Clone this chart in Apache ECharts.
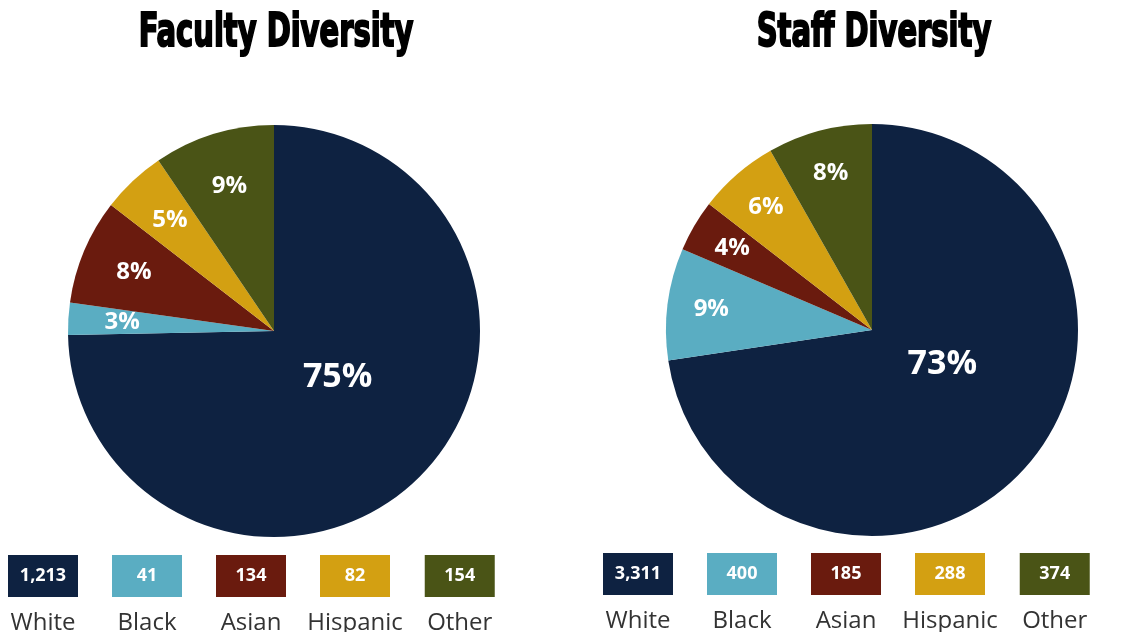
<!DOCTYPE html>
<html>
<head>
<meta charset="utf-8">
<title>Faculty and Staff Diversity</title>
<script src="https://cdn.jsdelivr.net/npm/echarts@6/dist/echarts.min.js"></script>
<style>
  html, body { margin: 0; padding: 0; background: #ffffff; }
  #chart { width: 1140px; height: 632px; }
</style>
</head>
<body>
<div id="chart"></div>
<script>
// Headcount by group
const categories = ['White', 'Black', 'Asian', 'Hispanic', 'Other'];
const facultyCounts = [1213, 41, 134, 82, 154];
const staffCounts = [3311, 400, 185, 288, 374];
const groupColors = ['#0e2241', '#5aadc2', '#6a1b0e', '#d3a012', '#4a5416'];
const chartTitles = ['Faculty Diversity', 'Staff Diversity'];

const LABEL_FONT = '"Open Sans", "DejaVu Sans", sans-serif';
const TITLE_FONT = '"DejaVu Sans Condensed", "Liberation Sans", sans-serif';

// Layout per panel: pie centre, label ring, legend origin, nudge for the big label
const panels = [
  { counts: facultyCounts, center: [274, 331], ringInner: 92, legendLeft: -9, legendTop: 555, bigNudge: [-12, -28], titleX: 276 },
  { counts: staffCounts, center: [872, 330], ringInner: 112, legendLeft: 586, legendTop: 553, bigNudge: [-10, -35], titleX: 874 }
];
const RADIUS = 206;

function fmtCount(v) {
  return v.toLocaleString('en-US');
}

const series = [];
const legends = [];
const graphics = [];

panels.forEach(function (p, pi) {
  // Filled slices; only the dominant group's percentage sits on this layer
  series.push({
    type: 'pie',
    center: p.center,
    radius: RADIUS,
    startAngle: 90,
    clockwise: true,
    percentPrecision: 0,
    silent: true,
    emphasis: { disabled: true },
    labelLine: { show: false },
    data: categories.map(function (name, i) {
      return {
        name: name,
        value: p.counts[i],
        itemStyle: { color: groupColors[i] },
        label: {
          show: i === 0,
          position: 'inside',
          formatter: '{d}%',
          color: '#ffffff',
          fontFamily: LABEL_FONT,
          fontWeight: 700,
          fontSize: 34
        }
      };
    }),
    labelLayout: function (params) {
      if (params.dataIndex === 0) {
        return { dx: p.bigNudge[0], dy: p.bigNudge[1] };
      }
    }
  });

  // Transparent ring that carries the smaller percentage labels further out
  series.push({
    type: 'pie',
    center: p.center,
    radius: [p.ringInner, RADIUS],
    startAngle: 90,
    clockwise: true,
    percentPrecision: 0,
    silent: true,
    emphasis: { disabled: true },
    labelLine: { show: false },
    itemStyle: { color: 'rgba(0,0,0,0)' },
    data: categories.map(function (name, i) {
      return {
        name: name,
        value: p.counts[i],
        label: {
          show: i !== 0,
          position: 'inside',
          formatter: '{d}%',
          color: '#ffffff',
          fontFamily: LABEL_FONT,
          fontWeight: 700,
          fontSize: 24
        }
      };
    })
  });

  // Count boxes with group names underneath; spacers keep every item the same width
  const rich = {
    sp: { width: 12, height: 42, lineHeight: 42 },
    name: { width: 94, align: 'center', fontSize: 24, lineHeight: 52, color: '#333333', fontFamily: LABEL_FONT }
  };
  categories.forEach(function (name, i) {
    rich['b' + i] = {
      width: 70,
      height: 42,
      lineHeight: 42,
      align: 'center',
      backgroundColor: groupColors[i],
      color: '#ffffff',
      fontFamily: LABEL_FONT,
      fontWeight: 700,
      fontSize: 18
    };
  });
  legends.push({
    left: p.legendLeft,
    top: p.legendTop,
    orient: 'horizontal',
    itemWidth: 0,
    itemHeight: 0,
    itemGap: 5,
    padding: 0,
    selectedMode: false,
    data: categories,
    formatter: function (name) {
      const i = categories.indexOf(name);
      return '{sp| }{b' + i + '|' + fmtCount(p.counts[i]) + '}{sp| }\n{name|' + name + '}';
    },
    textStyle: { rich: rich }
  });

  graphics.push({
    type: 'text',
    x: p.titleX,
    y: 34,
    scaleX: 0.7,
    style: {
      text: chartTitles[pi],
      font: 'bold 46px ' + TITLE_FONT,
      fill: '#000000',
      stroke: '#000000',
      lineWidth: 2,
      align: 'center',
      verticalAlign: 'middle'
    }
  });
});

const chart = echarts.init(document.getElementById('chart'), null, { renderer: 'canvas' });
chart.setOption({
  backgroundColor: '#ffffff',
  animation: false,
  legend: legends,
  graphic: graphics,
  series: series
});
</script>
</body>
</html>
